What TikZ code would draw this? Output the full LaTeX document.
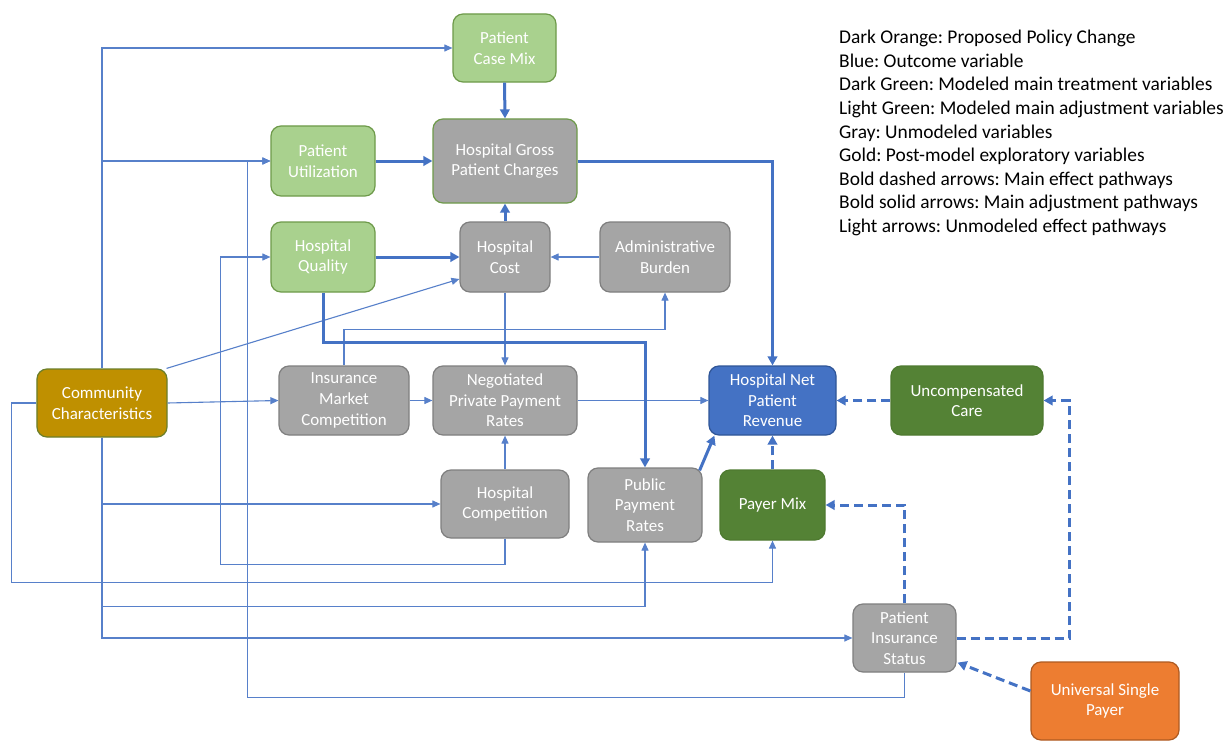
\documentclass[tikz,border=0pt]{standalone}
\usepackage{fontspec}
\setmainfont{Carlito}
\frenchspacing
\usetikzlibrary{arrows.meta,calc}
\definecolor{lgreen}{HTML}{A9D18E}
\definecolor{lgreenb}{HTML}{6E9A4A}
\definecolor{dgreen}{HTML}{548235}
\definecolor{dgreenb}{HTML}{4E7A30}
\definecolor{grayf}{HTML}{A5A5A5}
\definecolor{grayb}{HTML}{7F7F7F}
\definecolor{goldf}{HTML}{BF9000}
\definecolor{goldb}{HTML}{6B7F2A}
\definecolor{bluef}{HTML}{4472C4}
\definecolor{blueb}{HTML}{2F5597}
\definecolor{orangef}{HTML}{ED7D31}
\definecolor{orangeb}{HTML}{AE5A21}
\definecolor{arrowc}{HTML}{4472C4}
\tikzset{
  box/.style={rounded corners=10bp, line width=1.2bp, text=white, align=center,
    inner sep=0pt, font=\fontsize{17}{20.7}\selectfont},
  lgbox/.style={box, fill=lgreen, draw=lgreenb},
  dgbox/.style={box, fill=dgreen, draw=dgreenb},
  graybox/.style={box, fill=grayf, draw=grayb},
  goldbox/.style={box, fill=goldf, draw=goldb},
  bluebox/.style={box, fill=bluef, draw=blueb},
  orangebox/.style={box, fill=orangef, draw=orangeb},
  lightline/.style={draw=arrowc!90, line width=1.1bp},
  light/.style={lightline, -{Triangle[length=8bp,width=7bp]}},
  bold/.style={draw=arrowc, line width=3bp, -{Triangle[length=9bp,width=9.5bp]}},
  bolddash/.style={bold, dash pattern=on 9bp off 5bp},
  legend/.style={anchor=base west, inner sep=0pt, font=\fontsize{19.5}{23.5}\selectfont}
}
\begin{document}
\begin{tikzpicture}[x=1bp,y=-1bp]
\fill[white] (0,0) rectangle (1230,741);
\useasboundingbox (0,0) rectangle (1230,741);

% nodes
\node[lgbox, minimum width=103bp, minimum height=68bp] (pcm) at (504.5,48) {Patient\\Case Mix};
\node[lgbox, minimum width=104bp, minimum height=70bp] (pu) at (323,161) {Patient\\Utilization};
\node[graybox, draw=lgreenb, minimum width=144bp, minimum height=84bp] (hgc) at (505,161) {Hospital Gross\\Patient Charges};
\node[lgbox, minimum width=104bp, minimum height=70bp] (hq) at (323,257) {Hospital\\Quality};
\node[graybox, minimum width=90bp, minimum height=70bp] (hc) at (505,257) {Hospital\\Cost};
\node[graybox, minimum width=130bp, minimum height=70bp] (ab) at (665,257) {Administrative\\Burden};
\node[goldbox, minimum width=130bp, minimum height=68bp] (cc) at (102,403) {Community\\Characteristics};
\node[graybox, minimum width=130bp, minimum height=69bp] (imc) at (344,400.5) {Insurance\\Market\\Competition};
\node[graybox, minimum width=144bp, minimum height=69bp] (npr) at (505,400.5) {Negotiated\\Private Payment\\Rates};
\node[bluebox, minimum width=127bp, minimum height=69bp] (hnr) at (772.5,400.5) {Hospital Net\\Patient\\Revenue};
\node[dgbox, minimum width=152bp, minimum height=69bp] (uc) at (967,400.5) {Uncompensated\\Care};
\node[graybox, minimum width=128bp, minimum height=68bp] (hcomp) at (505,504) {Hospital\\Competition};
\node[graybox, minimum width=114bp, minimum height=74bp] (ppr) at (645,505) {Public\\Payment\\Rates};
\node[dgbox, minimum width=105bp, minimum height=70bp] (pm) at (772.5,505) {Payer Mix};
\node[graybox, minimum width=103bp, minimum height=68bp] (pis) at (904.5,638) {Patient\\Insurance\\Status};
\node[orangebox, minimum width=148bp, minimum height=78bp] (usp) at (1105,701) {Universal Single\\Payer};

% legend
\foreach \t [count=\i] in {Dark Orange: Proposed Policy Change,
  Blue: Outcome variable,
  Dark Green: Modeled main treatment variables,
  Light Green: Modeled main adjustment variables,
  Gray: Unmodeled variables,
  Gold: Post-model exploratory variables,
  Bold dashed arrows: Main effect pathways,
  Bold solid arrows: Main adjustment pathways,
  Light arrows: Unmodeled effect pathways}
  \node[legend] (leg\i) at (839,{44+23.5*(\i-1)}) {\t};

% light connectors
\draw[light] (cc.north) |- (pcm.west);
\draw[light] (cc.north) |- (pu.west);
\draw[light] (cc.south) |- (hcomp.west);
\draw[light] (cc.south) |- ($(ppr.south)+(0,64)$) -- (ppr.south);
\draw[light] (cc.south) |- (pis.west);
\draw[light] (cc.east) -- (imc.west);
\draw[light] ($(cc.north east)+(-1,0)$) -- ($(hc.west)+(0,22)$);
\draw[light] (cc.west) -- ++(-25,0) |- ($(pm.south)+(0,42)$) -- (pm.south);
\draw[light] (hcomp.south) -- ++(0,26) -| ($(hq.west)+(-50,0)$) -- (hq.west);
\draw[light] (pis.south) -- ++(0,25) -| ($(pu.west)+(-23,0)$) -- (pu.west);
\draw[light] (imc.north) |- ($(ab.south)+(0,37)$) -- (ab.south);
\draw[light] (imc.east) -- (npr.west);
\draw[light] (hc.south) -- (npr.north);
\draw[light] (ab.west) -- (hc.east);
\draw[light] (hcomp.north) -- (npr.south);
\draw[light] (npr.east) -- (hnr.west);

% bold solid connectors
\draw[bold] (pcm.south) -- (hgc.north);
\draw[bold] (pu.east) -- (hgc.west);
\draw[bold] (hc.north) -- (hgc.south);
\draw[bold] (hq.east) -- (hc.west);
\draw[bold] (hq.south) |- ($(ppr.north)+(0,-125)$) -- (ppr.north);
\draw[bold] (hgc.east) -| (hnr.north);
\draw[bold] ($(ppr.north east)+(-3,3)$) -- ($(hnr.south west)+(6,0)$);

% bold dashed connectors
\draw[bolddash] (pm.north) -- (hnr.south);
\draw[bolddash] (uc.west) -- (hnr.east);
\draw[bolddash] (pis.north) |- (pm.east);
\draw[bolddash] (pis.east) -- ++(113,0) |- (uc.east);
\draw[bolddash] ($(usp.west)+(0,-10)$) -- ($(pis.south east)+(1,-10)$);
\end{tikzpicture}
\end{document}
